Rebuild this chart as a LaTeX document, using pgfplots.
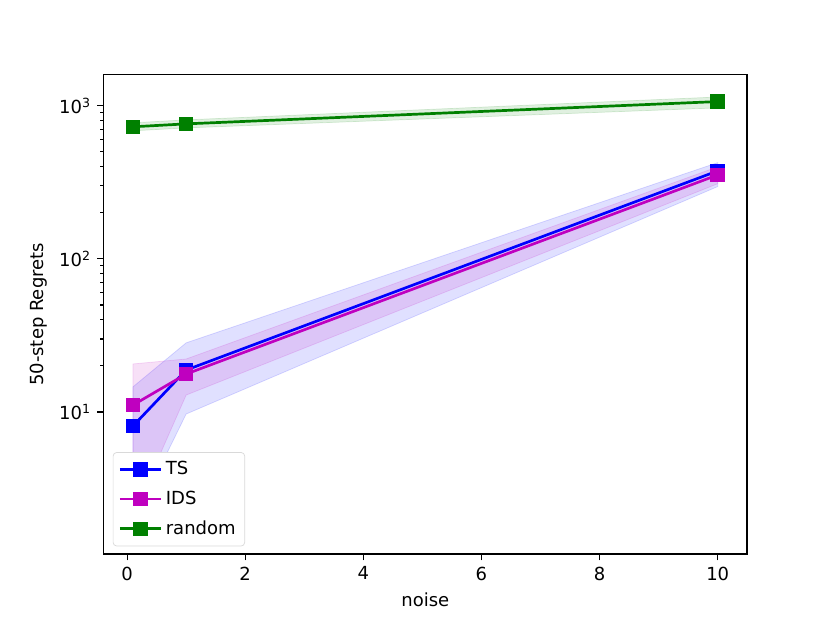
\documentclass[border=0pt]{standalone}
\usepackage{pgfplots}
\pgfplotsset{compat=1.18}
\usepackage{fontspec}
\setmainfont{DejaVu Sans}
\definecolor{mplblue}{rgb}{0,0,1}
\definecolor{mplmag}{rgb}{0.75,0,0.75}
\definecolor{mplgreen}{rgb}{0,0.5,0}
\begin{document}
\begin{tikzpicture}
\useasboundingbox (-57.6pt,-38.0pt) rectangle (403.2pt,307.6pt);
\begin{axis}[
  at={(0,0)}, anchor=south west,
  scale only axis, width=357.1pt, height=266.1pt,
  ymode=log,
  xmin=-0.395, xmax=10.495,
  ymin=1.18, ymax=1597,
  xtick={0,2,4,6,8,10},
  ytick={10,100,1000},
  yticklabels={10\textsuperscript{1},10\textsuperscript{2},10\textsuperscript{3}},
  /pgf/number format/assume math mode=true,
  tick align=outside,
  xtick pos=bottom, ytick pos=left,
  major tick length=3.5pt, minor tick length=2pt,
  every tick/.style={black, line width=0.6pt},
  axis line style={line width=0.8pt},
  xlabel={noise}, ylabel={50-step Regrets},
  tick label style={font=\fontsize{10}{12}\selectfont},
  label style={font=\fontsize{10}{12}\selectfont},
  legend cell align=left,
  legend image code/.code={\draw[mark repeat=2,mark phase=2] plot coordinates {(0cm,0cm) (0.4cm,0cm) (0.8cm,0cm)};},
  legend style={at={(0.014,0.016)}, anchor=south west, draw=black!15, rounded corners=2pt, font=\fontsize{10}{12}\selectfont, inner xsep=3pt, inner ysep=3pt, row sep=3.5pt},
]
% bands
\addplot[fill=mplblue, fill opacity=0.12, draw=mplblue, draw opacity=0.15, forget plot] coordinates {(0.1,14.6) (1,28.3) (10,426) (10,297) (1,9.7) (0.1,1.9)} -- cycle;
\addplot[fill=mplmag, fill opacity=0.12, draw=mplmag, draw opacity=0.15, forget plot] coordinates {(0.1,20.6) (1,22.2) (10,400) (10,310) (1,12.9) (0.1,2.1)} -- cycle;
\addplot[fill=mplgreen, fill opacity=0.12, draw=mplgreen, draw opacity=0.15, forget plot] coordinates {(0.1,775) (1,810) (10,1143) (10,970) (1,718) (0.1,687)} -- cycle;
% lines
\addplot[mplblue, line width=1.5pt, mark=square*, mark size=3.3pt, mark options={solid}] coordinates {(0.1,8.1) (1,18.8) (10,376)};
\addlegendentry{TS}
\addplot[mplmag, line width=1.5pt, mark=square*, mark size=3.3pt, mark options={solid}] coordinates {(0.1,11.1) (1,17.7) (10,354)};
\addlegendentry{IDS}
\addplot[mplgreen, line width=1.5pt, mark=square*, mark size=3.3pt, mark options={solid}] coordinates {(0.1,730) (1,763) (10,1067)};
\addlegendentry{random}
\end{axis}
\end{tikzpicture}
\end{document}
